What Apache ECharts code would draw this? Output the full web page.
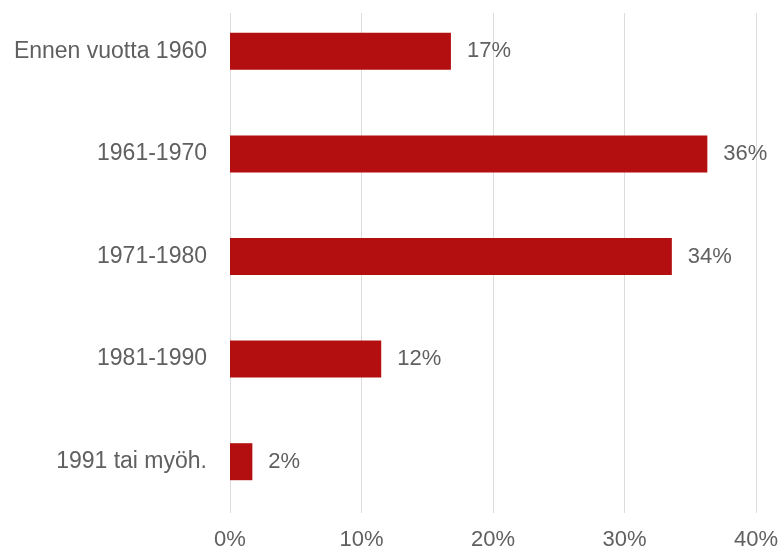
<!DOCTYPE html>
<html>
<head>
<meta charset="utf-8">
<script src="https://cdn.jsdelivr.net/npm/echarts@6/dist/echarts.min.js"></script>
<style>
    html, body { margin: 0; padding: 0; background: #fff; }
    #chart { width: 781px; height: 551px; }
</style>
</head>
<body>
<div id="chart"></div>
<script>
// data
const categories = ['Ennen vuotta 1960', '1961-1970', '1971-1980', '1981-1990', '1991 tai myöh.'];
const shares = [16.8, 36.3, 33.6, 11.5, 1.7];
const tickValues = [0, 10, 20, 30, 40];

const textColor = '#606060';
const font = 'Liberation Sans, Arial, sans-serif';

const chart = echarts.init(document.getElementById('chart'));
chart.setOption({
    animation: false,
    grid: [
        // bars
        { left: 230, right: 25, top: 0, height: 513 },
        // grid lines + tick labels
        { left: 230, right: 25, top: 13, height: 500 },
    ],
    xAxis: [
        {
            gridIndex: 0,
            type: 'value',
            min: tickValues[0],
            max: tickValues[tickValues.length - 1],
            interval: 10,
            show: false,
        },
        {
            gridIndex: 1,
            type: 'value',
            min: tickValues[0],
            max: tickValues[tickValues.length - 1],
            interval: 10,
            axisLine: { show: false },
            axisTick: { show: false },
            splitLine: { show: true, lineStyle: { color: '#dcdcdc', width: 1 } },
            axisLabel: {
                formatter: '{value}%',
                color: textColor,
                fontFamily: font,
                fontSize: 22,
                margin: 16,
            },
        },
    ],
    yAxis: [
        {
            gridIndex: 0,
            type: 'category',
            data: categories,
            inverse: true,
            axisLine: { show: false },
            axisTick: { show: false },
            axisLabel: {
                color: textColor,
                fontFamily: font,
                fontSize: 23,
                margin: 23,
            },
        },
        {
            gridIndex: 1,
            type: 'value',
            show: false,
        },
    ],
    series: [
        {
            type: 'bar',
            xAxisIndex: 0,
            yAxisIndex: 0,
            data: shares,
            barWidth: 37,
            itemStyle: { color: '#b30f10' },
            label: {
                show: true,
                position: 'right',
                distance: 16,
                color: textColor,
                fontFamily: font,
                fontSize: 22,
                formatter: p => Math.round(p.value) + '%',
            },
        },
    ],
});
</script>
</body>
</html>
